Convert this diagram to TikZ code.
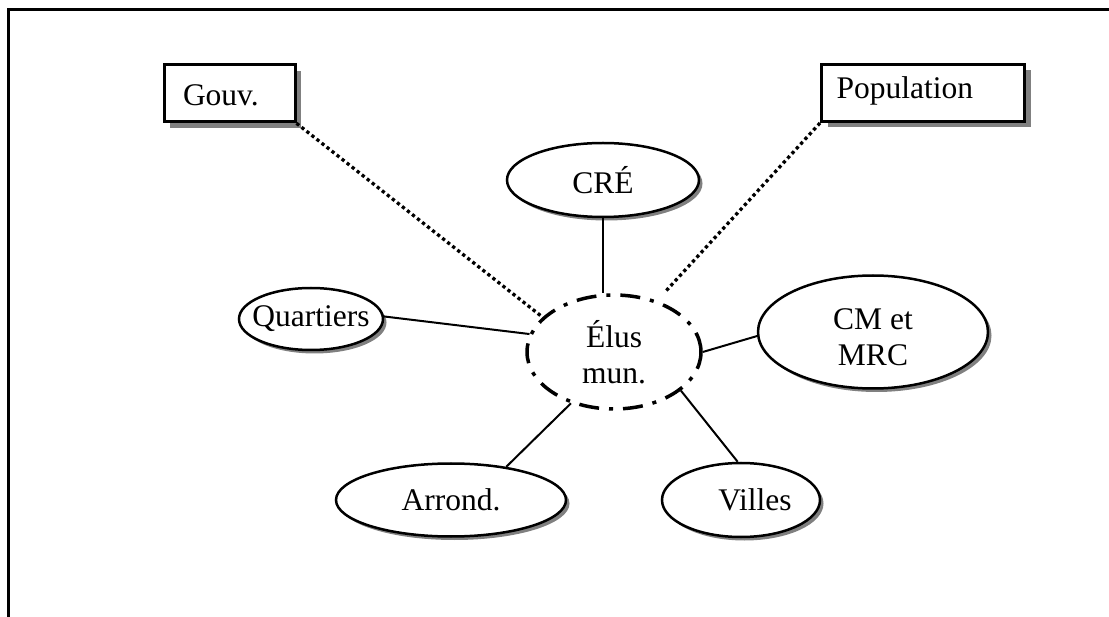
\documentclass[tikz,border=0pt]{standalone}
\usepackage{fontspec}
\setmainfont{Liberation Serif}
\usetikzlibrary{shapes.geometric,shadows}
\newcommand\dfont{\fontsize{31.5}{36}\selectfont}
\begin{document}
\begin{tikzpicture}[x=1pt,y=-1pt, font=\dfont,
  boxst/.style={draw, line width=3pt, rectangle, fill=white, inner ysep=0pt, minimum height=57pt, align=left,
    drop shadow={shadow xshift=6pt, shadow yshift=-6pt, fill=black!50, opacity=1}},
  ell/.style={ellipse, draw, line width=2.5pt, fill=white, inner sep=0pt, align=center,
    drop shadow={shadow xshift=3.5pt, shadow yshift=-3.5pt, fill=black!50, opacity=1}},
  centre/.style={ellipse, draw, line width=3.5pt, fill=white, inner sep=0pt, align=center,
    dash pattern=on 20pt off 10pt on 4pt off 10pt},
  link/.style={line width=2pt},
  dotlink/.style={line width=3.3pt, dash pattern=on 3.3pt off 3.1pt},
]
\useasboundingbox (0,0) rectangle (1109,617);
\draw[line width=2.5pt] (8.5,617) -- (8.5,9.5) -- (1109,9.5);

\node[boxst, minimum width=131pt, text width=93pt, inner xsep=19pt, text height=25.4pt, text depth=0pt] (gouv) at (229.5,93.3) {Gouv.};
\node[boxst, minimum width=203pt, text width=173pt, inner xsep=15pt, text height=21.5pt, text depth=10pt] (pop) at (923,93) {Population};

\node[centre, minimum width=174pt, minimum height=114pt] (elus) at (614,352) {Élus\\mun.};
\node[ell, minimum width=192pt, minimum height=74pt] (cre) at (603,180) {CRÉ};
\node[ell, minimum width=144pt, minimum height=62pt, inner xsep=-15pt] (quart) at (311,319) {Quartiers};
\node[ell, minimum width=230pt, minimum height=113pt] (cm) at (873,332) {\rule{0pt}{31.5pt}CM et\\MRC};
\node[ell, minimum width=230pt, minimum height=73pt] (arr) at (451,500) {Arrond.};
\node[ell, minimum width=158pt, minimum height=74pt] (villes) at (741,500) {\hspace*{28pt}Villes};

\draw[link] (cre.south) -- (cre.south |- elus.north);
\draw[link] (quart.2) -- (elus.168);
\draw[link] (elus.0) -- (cm.182);
\draw[link] (elus.230) -- (arr.31);
\draw[link] (elus.330) -- (villes.95);
\draw[dotlink] (gouv.south east) -- (elus.154);
\draw[dotlink, shorten >=12pt] (pop.south west) -- (elus.50);
\end{tikzpicture}
\end{document}
